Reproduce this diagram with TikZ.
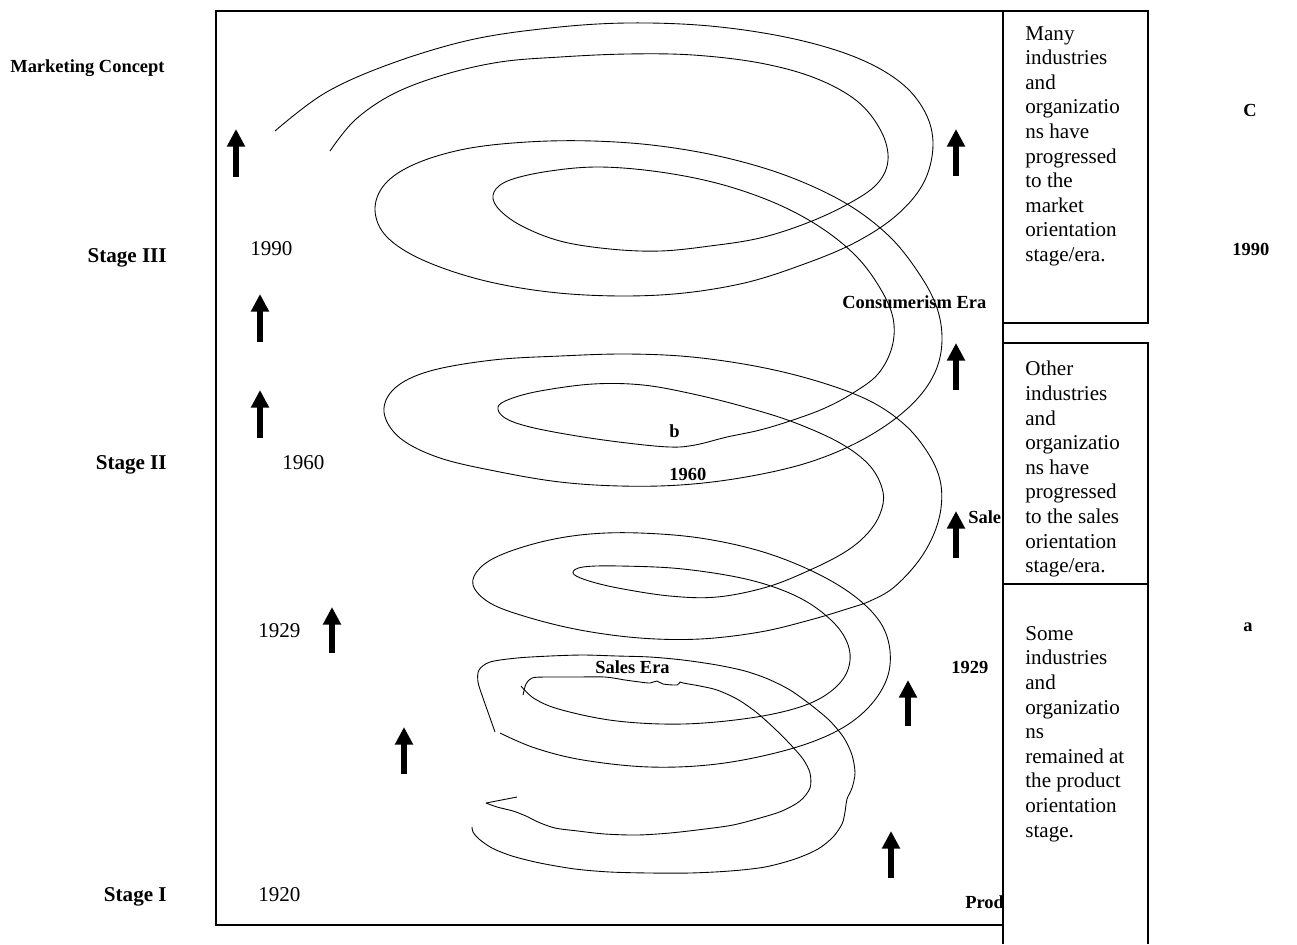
\documentclass[tikz,border=0pt]{standalone}
\usepackage{fontspec}
\setmainfont{Liberation Serif}
\usetikzlibrary{arrows.meta}
\begin{document}
\begin{tikzpicture}[x=0.02cm,y=-0.02cm,
  frame/.style={line width=1.1pt},
  spiral/.style={line width=0.5pt, line join=round},
  uparrow/.style={line width=3.2pt, -{Triangle[width=9.8pt,length=10pt]}},
  year/.style={font=\fontsize{12}{14}\selectfont, inner sep=0pt, anchor=base west},
  stage/.style={font=\fontsize{12}{14}\selectfont\bfseries, inner sep=0pt, anchor=base east},
  tag/.style={font=\fontsize{10.5}{12}\selectfont\bfseries, inner sep=0pt, anchor=base west},
  note/.style={font=\fontsize{12}{14}\selectfont, inner sep=0pt, align=left, anchor=north west},
]
\useasboundingbox (0,0) rectangle (1297,944);

% main frame
\draw[frame] (216,11) rectangle (1003,925);

% stage labels on the left
\node[tag] (mc) at (10,72) {Marketing Concept};
\node[stage] (s3) at (167,262) {Stage III};
\node[stage] (s2) at (167,469) {Stage II};
\node[stage] (s1) at (167,901) {Stage I};

% years inside the frame
\node[year] (y1990) at (250,255) {1990};
\node[year] (y1960) at (282,469) {1960};
\node[year] (y1929) at (258,637) {1929};
\node[year] (y1920) at (258,901) {1920};

% the spiral, drawn as four strokes
% outer strand
\draw[spiral] plot[smooth, tension=0.6] coordinates {
 (275,131) (325,93) (390,64) (470,40) (550,28) (627,23) (710,26) (790,38)
 (855,57) (900,82) (925,112) (933,145) (924,182) (898,214) (858,241) (807,263)
 (740,284) (660,295) (570,294) (490,282) (425,261) (387,237) (375,210) (385,184)
 (415,164) (465,149) (527,142) (593,141) (660,146) (727,158) (790,177) (847,204)
 (890,237) (920,275) (937,308) (942,340) (936,370) (918,398) (888,424) (848,447)
 (800,465) (740,478) (680,485) (620,486) (560,482) (500,472) (440,458) (400,438)
 (384,412) (395,388) (430,371) (493,360) (560,356) (627,354) (692,357) (760,367)
 (820,382) (870,401) (905,425) (928,453) (940,480) (941,508) (933,536) (917,563)
 (893,588) (870,601) (850,608) (810,620) (760,632) (700,639) (640,638) (580,630)
 (527,617) (490,603) (473,585) (480,568) (503,554) (545,541) (590,534) (640,533)
 (700,538) (760,551) (812,571) (853,595) (880,622) (890,651) (886,681) (866,710)
 (833,733) (783,751) (717,764) (650,767) (583,760) (535,748) (500,733)};

% inner strand
\draw[spiral] plot[smooth, tension=0.6] coordinates {
 (330,151) (355,120) (393,94) (443,75) (500,62) (560,57) (627,54) (693,55)
 (760,63) (815,78) (857,101) (881,131) (888,160) (877,184) (848,204) (807,223)
 (760,238) (710,246) (660,251) (610,249) (560,241) (520,225) (497,207) (494,192)
 (510,180) (550,171) (600,167) (660,172) (720,184) (775,203) (820,227) (856,256)
 (880,288) (893,318) (892,347) (878,374) (853,393) (825,408) (793,420) (760,430)
 (727,437) (695,445) (670,447) (627,443) (577,436) (530,427) (505,418) (498,407)
 (510,399) (540,391) (593,384) (643,385) (693,394) (745,407) (793,422) (840,443)
 (870,466) (883,492) (880,514) (867,534) (845,552) (810,570) (767,587) (717,597)
 (670,596) (618,588) (586,580) (573,573) (583,567) (620,566) (683,569) (750,580)
 (800,598) (834,623) (849,648) (847,672) (830,692) (800,707) (750,718) (683,724)
 (617,721) (562,710) (535,699) (521,686)};

% hand-drawn strand through the lower turns
\draw[spiral] plot[smooth, tension=0.5] coordinates {
 (523,695) (526,684) (532,678) (545,677) (575,677) (605,677) (625,680) (640,682)
 (650,683) (657,681) (663,684) (677,685) (680,682) (683,683) (700,686) (717,690)
 (737,699) (756,712) (774,728) (790,744) (803,759) (810,773) (810,788) (800,801)
 (782,811) (760,818) (733,825) (705,829) (670,833) (637,835) (605,834) (578,831)
 (555,828) (538,822) (526,816) (513,811) (497,807) (486,803)}
 -- (517,797);

% bottom strand
\draw[spiral] plot[smooth, tension=0.5] coordinates {
 (495,732) (489,715) (483,698) (478,682) (479,670) (490,662) (517,658) (550,656)
 (583,655) (617,656) (650,657) (683,660) (717,665) (745,671) (768,679) (790,690)
 (811,705) (830,721) (844,738) (852,755) (855,773) (852,788) (847,799) (845,812)
 (842,824) (833,837) (818,849) (795,859) (765,867) (730,871) (690,873) (650,873)
 (610,872) (575,869) (540,863) (512,856) (492,848) (479,839) (473,832) (472,827)};

% labels along the spiral
\node[tag] (cons) at (842,308) {Consumerism Era};
\node[tag] (lb) at (669,437) {b};
\node[tag] (t1960) at (669,480) {1960};
\node[tag] (sale) at (968,523) {Sale};
\node[tag] (salesera) at (595,673) {Sales Era};
\node[tag] (t1929) at (951,673) {1929};
\node[tag] (prod) at (965,908) {Prod};

% upward arrows
\draw[uparrow] (236,177) -- (236,129);
\draw[uparrow] (260,342) -- (260,294);
\draw[uparrow] (260,438) -- (260,390);
\draw[uparrow] (332,653) -- (332,607);
\draw[uparrow] (404,774) -- (404,727);
\draw[uparrow] (956,176) -- (956,129);
\draw[uparrow] (956,390) -- (956,343);
\draw[uparrow] (956,558) -- (956,511);
\draw[uparrow] (908,726) -- (908,680);
\draw[uparrow] (891,878) -- (891,831);

% side boxes
\draw[frame] (1003,11) rectangle (1148,323);
\draw[frame] (1003,343) rectangle (1148,584);
\draw[frame] (1003,944) -- (1003,584) -- (1148,584) -- (1148,944);

\node[note] (n1) at (1025,26) {Many\\industries\\and\\organizatio\\ns have\\progressed\\to the\\market\\orientation\\stage/era.};
\node[note] (n2) at (1025,361) {Other\\industries\\and\\organizatio\\ns have\\progressed\\to the sales\\orientation\\stage/era.};
\node[note] (n3) at (1025,626) {Some\\industries\\and\\organizatio\\ns\\remained at\\the product\\orientation\\stage.};

% far right markers
\node[tag] (mC) at (1243,116) {C};
\node[tag] (m1990) at (1232,255) {1990};
\node[tag] (ma) at (1243,631) {a};
\end{tikzpicture}
\end{document}
